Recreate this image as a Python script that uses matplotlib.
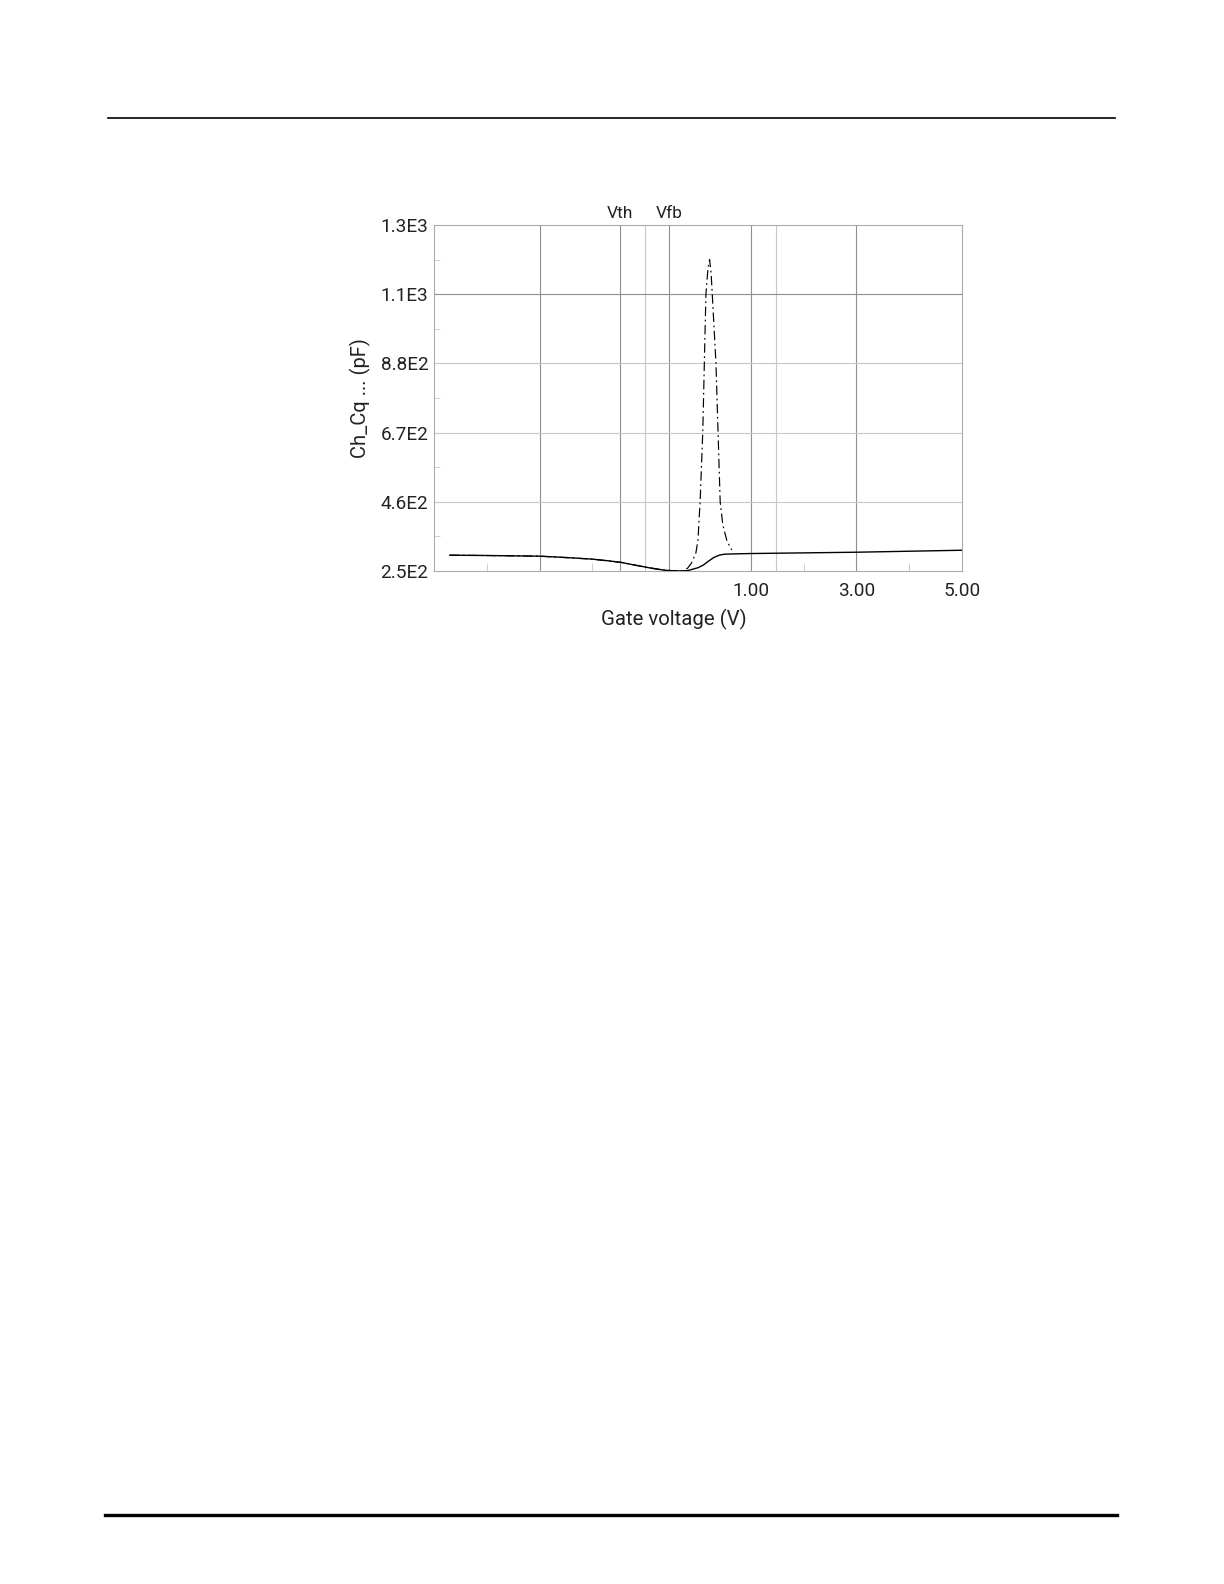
import matplotlib
matplotlib.use("Agg")
import matplotlib.pyplot as plt
from matplotlib.lines import Line2D
import numpy as np

plt.rcParams['font.family'] = ['Roboto', 'DejaVu Sans']

# solid curve (quasi-static / high-frequency C-V)
v_solid = [-4.7, -4.0, -3.0, -2.5, -2.0, -1.7, -1.45, -1.2, -1.0, -0.8, -0.6, -0.4,
           -0.2, 0.0, 0.1, 0.2, 0.3, 0.4, 0.5, 0.7, 1.0, 2.0, 3.0, 4.0, 5.0]
c_solid = [298, 297, 295, 291, 286, 281, 276, 268, 262, 256, 252, 250,
           251, 260, 268, 280, 291, 298, 301, 302, 303, 305, 307, 310, 313]

# dash-dot curve with the sharp peak
v_peak = [-4.7, -4.0, -3.0, -2.0, -1.45, -1.0, -0.6, -0.3, -0.2, -0.12, -0.04, 0.0,
          0.02, 0.04, 0.09, 0.12, 0.15, 0.19, 0.22, 0.25, 0.27, 0.34, 0.38, 0.42,
          0.47, 0.55, 0.64]
c_peak = [298, 297, 295, 286, 276, 262, 252, 250, 258, 275, 305, 344,
          405, 460, 670, 880, 1090, 1170, 1195, 1150, 1090, 880, 670, 460,
          390, 340, 314]

vth = -1.47
vfb = -0.55

y_ticks = [250, 460, 670, 880, 1090, 1300]
y_labels = ['2.5E2', '4.6E2', '6.7E2', '8.8E2', '1.1E3', '1.3E3']
x_ticks = [1, 3, 5]
x_labels = ['1.00', '3.00', '5.00']
x_minor = [-4, -2, 2, 4]
dark_vlines = [-3, vth, vfb, 1, 3]
light_vlines = [-1, 1.47]

W, H = 1224, 1584
fig = plt.figure(figsize=(W / 100, H / 100), dpi=100)

# page header / footer rules
fig.add_artist(Line2D([108 / W, 1115 / W], [1 - 118 / H, 1 - 118 / H], color='black', lw=1.2))
fig.add_artist(Line2D([105 / W, 1117 / W], [1 - 1515 / H, 1 - 1515 / H], color='black', lw=2.4))

ax = fig.add_axes([434 / W, 1 - 571 / H, (962 - 434) / W, (571 - 225) / H])
ax.set_xlim(-5, 5)
ax.set_ylim(250, 1300)

grid_dark = '#8f8f8f'
grid_light = '#c8c8c8'
for v in dark_vlines:
    ax.axvline(v, color=grid_dark, lw=0.8, zorder=1)
for v in light_vlines:
    ax.axvline(v, color=grid_light, lw=0.8, zorder=1)
for c in y_ticks[1:-1]:
    ax.axhline(c, color=grid_dark if c == 1090 else grid_light, lw=0.8, zorder=1)

ax.plot(v_peak, c_peak, color='black', lw=0.85, linestyle=(0, (8, 3, 1.5, 3)), zorder=3)
ax.plot(v_solid, c_solid, color='black', lw=1.0, zorder=4)

ax.set_xticks(x_ticks)
ax.set_xticklabels(x_labels)
ax.set_xticks(x_minor, minor=True)
ax.set_yticks(y_ticks)
ax.set_yticklabels(y_labels)
ax.set_yticks([(a + b) / 2 for a, b in zip(y_ticks[:-1], y_ticks[1:])], minor=True)

ax.tick_params(axis='x', which='major', length=0, pad=8, labelsize=13.7, labelcolor='#222222')
ax.tick_params(axis='y', which='major', length=0, pad=4, labelsize=13.7, labelcolor='#222222')
ax.tick_params(axis='x', which='minor', direction='in', length=6, color=grid_light)
ax.tick_params(axis='y', which='minor', direction='in', length=4.5, color=grid_light)

for side in ['left', 'right', 'top', 'bottom']:
    ax.spines[side].set_color('#ababab')
    ax.spines[side].set_linewidth(0.8)

for v, name in [(vth, 'Vth'), (vfb, 'Vfb')]:
    ax.annotate(name, xy=(v, 1300), xytext=(0, 3), textcoords='offset points',
                ha='center', va='bottom', fontsize=12.5, color='#222222')

fig.text(674 / W, 1 - 619 / H, 'Gate voltage (V)', ha='center', va='center',
         fontsize=14.7, color='#222222')
fig.text(360 / W, 1 - 398 / H, 'Ch_Cq ... (pF)', ha='center', va='center',
         rotation=90, fontsize=14.5, color='#222222')

fig.savefig('out.png', dpi=100)
